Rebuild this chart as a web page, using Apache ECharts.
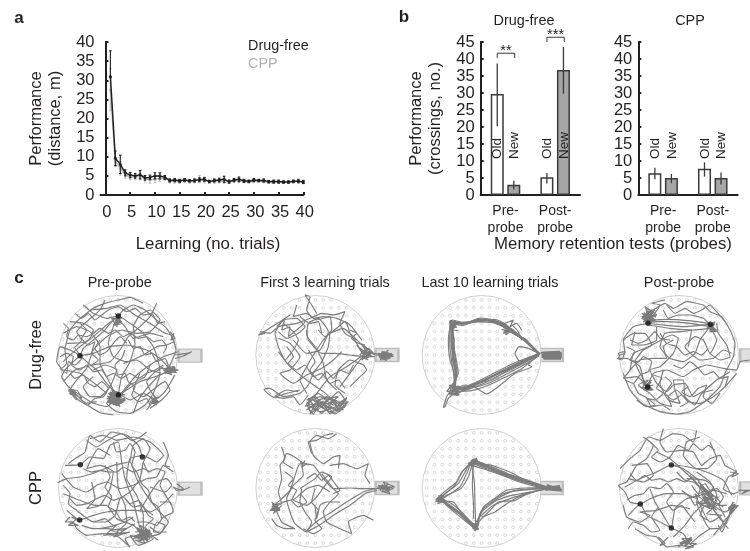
<!DOCTYPE html>
<html><head><meta charset="utf-8">
<style>html,body{margin:0;padding:0;background:#fff}#c{width:750px;height:551px;filter:blur(0.35px)}</style>
<script src="https://cdn.jsdelivr.net/npm/echarts@6/dist/echarts.min.js"></script>
</head><body><div id="c"></div>
<script>
// ---------- panel a ----------
const trials=[1,2,3,4,5,6,7,8,9,10,11,12,13,14,15,16,17,18,19,20,21,22,23,24,25,26,27,28,29,30,31,32,33,34,35,36,37,38,39,40];
const drugFree=[31,9.6,8,5.8,5.2,5,5.3,4.5,4.6,5,5,4.6,3.8,3.9,3.7,3.9,3.7,3.8,4,4.1,3.5,3.8,3.9,4.1,3.5,3.9,4.1,3.7,3.6,3.9,3.8,3.8,3.5,3.5,3.5,3.4,3.4,3.6,3.6,3.4];
const drugFreeErrUp=[6.7,1.9,2.4,.8,.7,.6,1.1,.6,.6,.8,.8,.5,.4,.4,.4,.4,.3,.4,.5,.5,.3,.4,.5,.8,.4,.4,.6,.4,.3,.4,.3,.4,.3,.4,.4,.3,.3,.3,.4,.4];
const drugFreeErrDown=[.3,1.9,2.4,.8,.7,.6,1.1,.6,.6,.8,.8,.5,.4,.4,.4,.4,.3,.4,.5,.5,.3,.4,.5,.8,.4,.4,.6,.4,.3,.4,.3,.4,.3,.4,.4,.3,.3,.3,.4,.4];
const cpp=[27.5,8.7,7,5.2,4.8,4.7,4.9,4.2,4,4.1,4.3,4.4,3.7,3.6,3.5,3.8,3.5,3.7,4.2,3.8,3.6,3.5,3.7,3.6,3.4,3.7,3.7,3.6,3.4,3.6,3.6,3.5,3.3,3.4,3.3,3.4,3.3,3.4,3.7,3.3];
const cppErr=[5.5,1.2,1.8,.8,.8,.7,.9,.8,.9,.9,.8,.6,.5,.5,.4,.4,.4,.5,.9,.6,.4,.4,.5,.5,.4,.4,.5,.4,.3,.4,.3,.3,.3,.3,.3,.3,.3,.3,.5,.3];
const learningTicks=[0,5,10,15,20,25,30,35,40];

// ---------- panel b ----------
const barPositions={old:[1,4],fresh:[2,5]};
const dfOld=[29.7,5.2], dfNew=[3,36.8], cppOld=[6.4,7.7], cppNew=[5,5];
const dfOldErr=[[20.2,38.7],[3.4,6.5]], dfNewErr=[[1.6,4.2],[29.8,43.5]];
const cppOldErr=[[4.6,8],[5.4,9.6]], cppNewErr=[[3.5,6.2],[3.1,6.6]];
const probeTicks=[1.5,4.5], probeLabels=['Pre-\nprobe','Post-\nprobe'];
const brackets=[[1,2.05,41.7,40.3,'**'],[4,5.05,46.4,45,'***']];

// ---------- panel c: tracks in arena coordinates ----------
const holeHalfWidths=[2,4,5,6,6,7,7,7,7,7,6,6,5,4,2];
const preDrugTracks=[
[205,78,185,95,160,125,130,150,100,175,90,197,70,215,45,240,35,260,55,290,90,315,130,340,170,350,205,320,230,290,260,255,300,225,340,200,370,190,385,185],
[205,78,220,60,250,45,285,60,320,90,350,115,370,150,378,180,360,225,350,245,310,262,270,275,230,300,205,314,170,280,140,240,110,215,90,197,60,180,30,170,20,215,35,235,50,220,45,180,60,120,85,90,130,55,165,40,205,30,240,22,280,40],
[205,78,190,110,175,160,190,200,230,215,280,195,320,170,350,165,372,155],
[205,314,215,260,240,215,255,160,250,110,270,75,300,60,330,90,300,125,260,130,215,120,170,140,130,180,110,235,80,270,60,300,85,330,120,350,150,368,190,375],
[100,45,130,70,170,85,205,78,240,100,280,130,310,170,325,215,330,250,310,310,285,345,240,370,200,365,170,340,190,318],
[40,130,80,110,120,125,150,170,150,220,175,270,195,310],
[90,197,130,190,180,170,230,165,290,180,330,205,360,238],
[60,95,100,100,130,120,120,145,90,170,60,195,40,215],
[220,220,260,210,300,240,330,250,295,290,265,330,250,370],
[130,240,165,225,200,240,180,290,150,320,120,320,100,290,130,260],
[165,30,150,60,110,95,80,125,95,150,70,175],
[270,250,250,300,280,320,320,290,345,275,360,300,335,330,300,355],
[320,40,300,80,270,110,235,140,210,180,180,215,130,225,75,240,40,275],
[120,60,170,55,210,45,255,75,300,100,345,130,365,135,375,165],
[50,160,110,155,170,105,200,85,225,110,250,145,300,130,340,140],
[340,230,310,250,290,275,300,300,320,325,345,305,375,255],
[80,330,60,305,80,300,95,325,75,315,65,300,110,340,140,335],
[300,225,285,260,240,285,215,315,240,330,280,310,310,330,290,360],
[40,240,90,250,140,285,170,310],
[40,100,55,115,50,140,70,150,85,135,110,140,130,130,150,115,175,130,195,120,220,140,240,130,265,145,290,140,310,155,335,150,350,170,340,190],
[30,200,50,190,70,200,65,225,90,240,110,225,130,245,155,240,170,260,190,250,215,265,240,250,265,265,290,250,315,240,340,225],
[75,70,95,85,115,70,135,90,155,75,175,60,205,50,230,65,255,55,280,75,305,70,325,100,345,95],
[60,250,75,265,100,255,115,280,135,290,155,275,175,295,160,320,135,325,115,345],
[235,150,250,175,270,170,285,195,305,190,320,215,345,205,355,225],
[225,180,215,205,195,225,205,255,225,250,235,275,255,290,245,315,265,335,290,325,300,345],
[150,150,135,175,150,195,170,185,190,160,210,140,230,160],
[75,175,95,205,75,225,55,215,50,250,30,235],
[90,100,110,120,95,145,115,165,135,155,125,190,145,210,125,225],
[175,310,215,340,180,340,220,305,185,325,215,320,175,335,205,305,190,345,225,330,170,325,205,345,195,305,180,315,225,315,185,300,210,350,172,318,220,338,200,325,178,345,215,310],
[330,235,385,240,345,250,375,230,350,232,380,248,340,240,365,255,352,225,370,245],
[300,320,325,335,305,340,325,320,310,330,300,335,320,345,312,318],
[195,70,215,100,190,105,212,72,200,110,185,85,215,85,195,95],
[360,125,375,145,362,150,372,130],
[375,195,410,190,425,185,400,198,375,205]];
const firstDrugTracks=[
[400,195,370,190,340,190,320,160,300,130,290,100,260,85,220,80,190,85,170,60,180,20,165,15,185,45,200,70],
[340,195,290,230,240,260,200,310,170,350],
[100,100,130,125,145,150,130,180,105,210,85,170,75,130,100,90,140,85,165,110,145,130,110,145,85,125],
[30,125,60,130,85,110,140,100,180,85,215,70,250,75,285,65,270,100,285,130,320,150],
[85,185,120,230,170,270,220,305,260,340],
[240,125,235,170,215,215,190,250,175,285,150,310,100,320,60,295,42,298,70,322,110,310,150,300],
[170,120,175,150,215,190,255,190,300,195,340,200,375,200],
[240,130,280,115,310,140,340,170,350,190,330,210,300,250,270,290],
[130,150,170,190,210,180,235,125,205,85,175,100,170,135,195,170,220,220,230,270,260,300],
[85,145,120,160,150,200,120,240,90,250,130,280,170,255,215,235,250,210,275,185],
[140,45,130,80,170,70,200,90,240,80,245,120,220,150,190,195,170,230,150,270,170,310],
[45,130,25,135,50,120,90,95,120,75],
[300,290,330,260,350,240,340,225,300,210,265,240,255,285,285,310],
[80,110,105,85,95,120,120,110,115,140,140,120,165,95,150,80,180,100,205,95,215,130],
[110,170,130,200,115,220,140,240,165,225,190,260,215,250,240,280,265,270,285,295],
[175,180,195,215,180,240,205,270,230,245,250,265,270,240,295,250,310,225],
[205,120,225,140,260,115,285,95,305,110,335,150],
[170,340,210,320,250,345,290,325,260,360,220,335,180,365,175,325,215,370,255,330,285,350,240,365,200,345,170,360,230,320,270,365,190,330,250,370,295,335,210,365,175,345,235,340,265,320,205,330,180,372,245,325,280,360,225,350,195,320,170,330],
[165,350,190,320,215,350,240,322,265,352,290,322,270,340,240,372,215,335,190,372,170,345],
[175,330,205,310,235,330,265,305,290,340,255,372,225,345,195,365],
[175,315,150,345,130,320,100,325,75,320,110,300,145,305],
[320,165,345,200,330,175,365,200,340,165,360,185,335,210,355,175,375,195,345,180,330,195,355,210],
[378,195,430,195,400,185,420,205,390,210,415,180,395,200,425,190,405,205,385,190,420,198,395,185,410,212,388,200,430,200,410,190],
[300,120,320,130,305,145,325,160,345,165]];
const lastDrugTracks=[
[372,192,335,155,295,125,270,105,235,92,190,90,150,100,110,98,110,150,115,200,122,250,118,300,160,292,210,270,260,245,310,220,372,192],
[374,190,338,160,300,130,275,112,232,96,190,86,148,102,108,92,104,150,108,200,116,250,122,308,165,296,215,276,265,250,315,226,370,195],
[370,188,330,150,290,128,268,100,240,88,195,94,152,96,114,104,116,150,120,200,126,250,114,296,155,288,205,266,255,240,305,216,376,190],
[374,194,342,162,296,122,280,118,238,95,185,92,145,106,106,100,112,150,122,200,130,250,110,292,150,298,220,280,275,252,325,226,372,198],
[370,190,332,148,302,135,262,108,228,88,195,84,155,100,112,90,100,150,104,205,120,260,125,312,175,282,230,270,280,240,330,215,370,192],
[372,192,336,158,290,118,272,112,234,98,188,96,146,100,104,96,118,150,112,205,124,255,116,304,170,302,220,286,270,262,320,236,372,194],
[372,196,340,210,312,212,300,190,312,170,340,175,372,190],
[376,190,340,225,350,230,300,250,250,290,215,312,185,295,150,285,120,298],
[108,300,95,320,85,352,90,350,100,325,120,310],
[102,285,130,310,100,312,135,290,105,295,125,315,115,280,95,305,130,300],
[260,118,300,130,280,112,265,130,295,118,272,135,290,105,310,125,320,150],
[104,92,125,112,105,108,122,92,112,118,130,122],
[270,100,295,90,285,110,305,100,320,120]];
const postDrugTracks=[
[115,100,160,105,220,110,300,103],[115,95,170,95,240,100,300,110],[115,105,180,115,250,120,300,115],[118,90,175,88,235,92,296,100],
[115,100,70,110,40,150,45,190,30,195,25,205,50,205,90,230,100,270,110,290,130,250,170,240,220,260,250,240,290,225,340,235,380,240,390,215,420,210],
[130,60,165,40,190,55,230,35,280,45,300,65,335,80,360,120,375,160,370,200,345,250,330,290,290,330,240,365,200,372,150,365,95,340,60,300,40,250],
[300,110,270,150,255,190,220,215,180,205,150,170,165,130,215,125,245,120,235,170],
[110,285,90,250,75,215,100,180,135,160,185,135,205,145,190,190,150,230,120,240,140,280,170,305,190,285,225,280,250,320,285,300,320,270,360,245],
[40,150,70,130,105,130,125,165,70,190,60,240,40,265,80,260,110,285],
[300,110,320,150,300,190,280,150,255,140,225,170,270,210,310,205,340,180,365,190],
[160,240,150,280,175,330,210,340,195,300,190,270,220,270,225,320,255,345,275,310,310,300],
[140,110,140,150,100,165,65,165,75,125],
[160,60,175,85,205,75,240,75,280,85,300,105],
[300,190,330,210,360,200,350,165,325,130,320,100],
[50,170,75,185,60,210,85,215,100,200,125,215,115,245,90,255,70,280,45,270],
[130,255,155,265,140,295,160,310,135,330,110,325,125,350,155,345,180,360],
[190,225,215,235,240,215,265,235,285,255,310,245,330,265,355,260,345,290],
[235,290,215,305,240,320,265,295,290,285,280,320,305,340,330,310],
[170,45,195,70,225,55,250,70,275,60,300,45,320,65,345,95],
[150,130,170,160,200,170,225,195,250,185,275,195,295,175],
[60,150,85,160,110,150,135,125,150,145,180,150],
[210,350,235,335,215,315,190,330,165,310,185,280,165,260],
[95,70,135,95,100,95,135,60,110,60,125,100,95,85,140,75,105,50,120,90,100,75,130,85,110,100,150,45,125,40,165,30],
[295,100,320,125,300,125,315,95,290,115,310,105,305,125],
[95,275,130,300,100,300,125,270,105,290,130,285,95,295,115,270,85,285,120,310],
[120,310,150,340,185,350,175,320,200,300,235,335,270,340,310,320,345,290,380,250],
[30,200,25,190,45,185,35,210,20,205],
[60,240,90,210,130,205,170,205,160,170,190,150],
[80,330,110,350,135,345,105,320,85,310,70,280]];
const preCppTracks=[
[120,50,160,40,200,55,250,45,300,60,340,100,320,120,280,100,240,110,230,170,260,220,280,280,280,330],
[22,182,50,170,90,165,140,150,190,130,240,120,260,170,290,220,320,260,355,300,330,335,290,345],
[45,130,91,128,120,105,160,110,180,70,205,60,215,120,225,170,250,240,270,320],
[277,105,265,70,230,40,185,30,150,60,120,40,105,90,75,110,55,125],
[35,155,70,195,110,210,140,190,170,180,210,200,250,190,290,170,320,165,340,130,370,150],
[40,215,90,235,135,250,170,250,200,290,250,310,280,340],
[50,265,89,294,130,280,170,270,215,265,255,265,300,270,340,245,370,215],
[60,285,45,300,70,300,80,320,110,340,160,335,205,345,240,375,225,350,260,340],
[95,310,130,320,170,320,215,325,255,305],
[380,185,400,200,380,205,370,195,395,205,420,195],
[300,195,345,210,365,190,350,170,330,175,310,200,285,240,270,265],
[125,180,135,230,110,260,150,250,180,200,190,150,150,130,110,140,130,100,145,80,180,100],
[240,120,250,70,280,50,300,80,280,120,270,170,240,210,210,230,195,280,165,300,130,300],
[200,120,205,200,225,250,230,300,200,330],
[330,240,360,240,370,270,340,285,320,310,290,300,260,300],
[190,60,200,90,225,85,240,65,255,90,245,130,260,150,275,185,295,205,305,240,325,255,335,290],
[110,55,140,75,165,60,190,45,215,35,245,55,270,45,290,30],
[100,140,125,150,150,145,175,150,200,150,220,135,250,150,280,140,300,150],
[60,230,80,250,110,245,140,230,165,220,190,235,220,225,240,245,265,235,285,260,310,280],
[165,130,180,165,165,195,185,225,175,255,195,265,215,295,240,285,255,300],
[40,190,60,215,55,245,80,265,105,285,130,300,165,290,190,310,225,300,250,285],
[280,120,295,150,320,140,345,150,330,190,350,225,365,250],
[225,230,250,255,275,250,295,280,310,290,285,315,305,340,325,355],
[255,330,300,325,265,360,295,345,255,345,290,320,270,355,305,335,265,320,285,365,255,355,300,350,275,325],
[260,315,295,360,270,310,300,330,250,350,285,340,310,350,265,370,240,340,280,355],
[60,300,85,310,55,310,80,290,65,285,90,300],
[150,320,200,310,170,335,215,335,180,325,230,320,190,345,240,330,160,340],
[300,315,330,335,345,310,320,300,310,330,350,330],
[340,60,355,100,345,130,360,135]];
const firstCppTracks=[
[420,195,380,200,340,200,300,198,250,200,220,170,190,130,150,125,135,160,120,205,90,235,65,255,100,240,135,230,170,200,205,190,240,210],
[260,35,235,50,200,40,180,60,190,100,220,125,250,105,270,100,265,140],
[95,75,105,110,90,130,95,170,85,210,95,245,70,250],
[155,125,160,160,130,190,110,230,120,270,135,305,170,330,185,300,165,270,150,240,155,200],
[170,330,215,305,250,280,300,250,345,215,380,205],
[170,325,205,295,245,270,290,240,340,210,375,200],
[240,130,280,125,320,140,355,125,345,160,360,185],
[215,155,250,200,265,215,240,240,220,270,230,300,270,320,305,335,295,300,340,280,370,295],
[75,255,95,300,135,320,105,320,80,310,65,290],
[65,240,90,265,60,265,85,245,70,275,95,250],
[150,120,170,125,155,135,165,115],
[130,235,170,250,200,225,225,190,245,165,215,150,195,170,150,200],
[105,150,130,170,115,190,140,205,125,235,145,255,170,240,150,215],
[170,170,195,155,215,175,235,160,255,185,270,205,250,215],
[195,200,185,240,205,265,195,295,215,320,190,335,160,320],
[380,195,435,195,400,180,420,215,390,205,415,185,395,210,430,200,385,190,410,205],
[155,120,125,100,110,95,100,120,130,140],
[195,250,200,290,210,250,230,240,270,240],
[185,95,175,60,200,55,225,40,250,35]];
const lastCppTracks=[
[395,198,340,180,290,165,230,140,170,118,150,150,130,185,75,230,105,250,135,275,180,318,200,265,255,225,300,205,395,198],
[395,198,345,185,295,170,235,148,168,125,145,145,125,180,72,225,110,245,140,270,182,312,205,255,265,215,315,205,392,200],
[390,196,335,178,285,160,225,136,175,112,155,155,135,195,80,235,100,255,130,280,185,322,195,275,245,235,290,220,390,202],
[398,200,350,190,300,175,240,152,165,130,140,150,120,190,70,235,115,240,145,280,178,306,212,250,275,205,330,198,396,196],
[392,194,330,172,280,155,220,130,178,116,160,165,138,200,82,228,95,245,125,265,188,316,190,290,235,250,285,230,345,212,392,200],
[168,120,178,180,180,250,182,310],[175,125,172,190,176,260,175,290],
[180,125,230,130,285,150,330,175],
[70,220,85,240,62,238,80,218,68,245,92,235,72,228],
[178,308,190,322,172,318,192,300,180,328],
[162,125,185,108,172,132,190,120],
[180,310,230,260,250,240,300,235,345,210],[200,285,240,270,275,245,310,225,370,205]];
const postCppTracks=[
[184,129,220,140,260,170,290,210,310,250,345,270,380,250],
[140,90,180,110,225,150,265,190,295,240,330,290,355,320],
[100,45,130,70,110,110,80,130,50,180,25,190,45,210,60,240,91,246,120,230,170,215,220,215,260,230],
[160,20,150,60,170,90,215,85,250,90,275,130,300,110,330,100,345,130,380,150,355,165,340,200,370,215,385,210],
[260,25,250,60,220,40,190,35,150,55,115,45,90,85,60,110,30,140],
[45,195,90,170,140,150,184,129,235,135,290,150,340,175,365,220],
[55,280,91,246,110,280,150,300,184,318,220,335,240,365,270,340,300,320],
[75,320,110,340,140,345,170,375,210,370,250,375],
[120,200,135,240,160,280,184,318,195,260,230,230,270,220,310,205,350,215],
[240,160,270,200,260,240,280,290,300,320,330,320,360,280],
[260,150,300,180,320,220,310,260,340,300,310,340],
[230,170,285,175,310,195,280,245,250,275,225,310,190,345],
[300,60,320,110,290,140,260,140,220,100,230,60,270,45],
[65,130,110,125,130,160,100,180,55,170],
[40,250,50,285,90,300,120,280,90,270,140,265,185,250,240,260],
[120,60,145,85,125,105,150,120,180,105,205,70,235,85,250,65,275,85,295,70,315,85],
[60,155,80,175,105,160,125,175,150,170,175,180,200,170,225,180,250,165,270,175],
[50,235,75,220,100,215,120,195,150,200,170,185,190,210,170,240,190,265,215,250,235,275,255,300],
[200,150,225,175,250,180,270,195,285,185,300,205,320,200,340,225,325,250,350,250],
[145,255,125,285,150,325,125,330,100,310,70,300,55,320],
[245,190,265,215,290,205,305,230,325,225,305,260,285,250,270,280,295,295],
[215,205,240,225,255,250,280,235,300,255,320,245,345,285],
[265,180,310,225,275,215,300,260,260,240,315,250,285,200,330,240,290,275,335,280,300,300,255,215,320,265,285,225,340,255],
[205,375,240,350,215,350,250,375,225,380,260,365,210,365,245,345],
[340,300,385,250,355,265,370,240,350,300,335,330,325,310],
[360,150,385,155,365,165,380,145],
[385,205,420,205,395,215,410,205],
[145,345,165,365,150,370,175,345]];
const preDrugDense=[[178,320,215,335,185,340,218,310,190,328,212,322,180,308,200,345,225,328,172,335],[345,238,380,240,350,248,375,232,355,240],[305,325,322,335,308,338,320,322],[198,85,212,95,195,100,208,78],[55,300,75,308,60,312,72,298]];
const firstDrugDense=[[340,185,360,195,345,205,365,185,350,190],[385,195,425,195,395,188,420,202,390,202,415,188]];
const lastDrugDense=[[372,192,335,155,295,125,270,105,235,92,190,90,150,100,110,98,110,150,115,200,122,250,118,300,160,292,210,270,260,245,310,220,372,192],[105,285,130,315,105,310,130,290,115,300],[265,110,300,130,280,115,270,130],[104,92,120,108,108,118,124,96],[380,195,440,195,385,190,440,200,380,200,440,190,385,205,438,205,380,188,436,186]];
const postDrugDense=[[100,70,135,92,105,92,130,65,112,68,125,95,98,80,138,78],[298,105,318,122,302,120,312,100],[100,280,125,298,105,296,122,275,108,290]];
const preCppDense=[[262,320,292,355,270,325,298,338,258,345,285,330],[265,345,300,325]];
const firstCppDense=[[385,198,420,200,395,190,415,208],[68,245,88,262,66,262,84,248]];
const lastCppDense=[[395,198,340,180,290,165,230,140,170,118],[135,275,180,318],[75,230,135,275],[72,228,90,240,65,232,85,222],[385,195,435,198,390,203,435,193,385,200,440,205,395,190],[168,118,185,112,172,130,160,122],[178,312,188,320,176,322]];
const postCppDense=[[270,190,310,235,280,225,300,255],[210,365,245,350,225,372],[355,260,375,248,360,275]];
const dotPositions=[
[[205,78],[90,197],[205,314]],[],[],[[114,100],[301,103],[113,291]],
[[91,128],[277,105],[89,294]],[],[],[[184,129],[91,246],[184,318]]];
const allTracks=[preDrugTracks,firstDrugTracks,lastDrugTracks,postDrugTracks,preCppTracks,firstCppTracks,lastCppTracks,postCppTracks];
const allDense=[preDrugDense,firstDrugDense,lastDrugDense,postDrugDense,preCppDense,firstCppDense,lastCppDense,postCppDense];
const arenaCentres=[[204,195],[196,195],[200,195],[207,195],[204,198],[196,198],[200,198],[207,198]];
const platformCentres=[[420,197],[411,195],[409,195],[425,196],[420,200],[411,198],[409,198],[425,199]];

const ink='#231f20', track='#7c7c7c', fontFamily='"Liberation Sans",Arial,sans-serif';
const grids=[], xAxes=[], yAxes=[], series=[];
const baseAxis={axisLine:{lineStyle:{color:ink,width:2}},axisTick:{inside:true,length:3,lineStyle:{color:ink,width:2}},axisLabel:{color:ink,fontSize:16.5,fontFamily},splitLine:{show:false}};

// a
grids.push({left:100.5,top:42,width:202.8,height:153});
xAxes.push({...baseAxis,type:'value',min:-1,max:40,axisTick:{...baseAxis.axisTick,customValues:learningTicks},
  axisLabel:{...baseAxis.axisLabel,customValues:learningTicks,margin:9,padding:[0,0,0,3],formatter:v=>String(v)}});
yAxes.push({...baseAxis,type:'value',min:0,max:40,interval:5,name:'Performance\n(distance, m)',nameLocation:'middle',nameRotate:90,nameGap:36,
  nameTextStyle:{color:ink,fontSize:16.5,fontFamily,lineHeight:19},axisLabel:{...baseAxis.axisLabel,margin:6}});
function errorSeries(name,vals,down,up,color,g){
  series.push({name,type:'custom',xAxisIndex:g,yAxisIndex:g,z:color===ink?4:2,silent:true,
    data:vals.map((v,i)=>[trials[i],v-down[i],v+up[i]]),
    renderItem(p,api){const a=api.coord([api.value(0),api.value(1)]),b=api.coord([api.value(0),api.value(2)]);
      const st={stroke:color,lineWidth:1.1};
      return {type:'group',children:[
        {type:'line',shape:{x1:a[0],y1:a[1],x2:b[0],y2:b[1]},style:st},
        {type:'line',shape:{x1:a[0]-1.3,y1:a[1],x2:a[0]+1.3,y2:a[1]},style:st},
        {type:'line',shape:{x1:b[0]-1.3,y1:b[1],x2:b[0]+1.3,y2:b[1]},style:st}]};}});
}
errorSeries('CPP err',cpp,cppErr,cppErr,'#bdbdbd',0);
series.push({name:'CPP',type:'line',xAxisIndex:0,yAxisIndex:0,z:2,data:trials.map((t,i)=>[t,cpp[i]]),symbol:'circle',symbolSize:3,showSymbol:true,itemStyle:{color:'#bdbdbd'},lineStyle:{color:'#bdbdbd',width:1.5}});
errorSeries('Drug-free err',drugFree,drugFreeErrDown,drugFreeErrUp,ink,0);
series.push({name:'Drug-free',type:'line',xAxisIndex:0,yAxisIndex:0,z:4,data:trials.map((t,i)=>[t,drugFree[i]]),symbol:'circle',symbolSize:3,showSymbol:true,itemStyle:{color:ink},lineStyle:{color:ink,width:1.5}});

// b
function barPanel(left,oldV,newV,oldE,newE,title,withName){
  const g=grids.length;
  grids.push({left,top:42,width:99.3,height:153});
  xAxes.push({...baseAxis,type:'value',min:0,max:6,axisTick:{show:false},
    axisLabel:{...baseAxis.axisLabel,fontSize:14,lineHeight:17,margin:8,customValues:probeTicks,formatter:v=>probeLabels[probeTicks.indexOf(v)]}});
  yAxes.push({...baseAxis,type:'value',min:0,max:45,interval:5,axisLabel:{...baseAxis.axisLabel,margin:6},
    ...(withName?{name:'Performance\n(crossings, no.)',nameLocation:'middle',nameRotate:90,nameGap:36,nameTextStyle:{color:ink,fontSize:16.5,fontFamily,lineHeight:19}}:{})});
  const bar=(name,xs,vs,color)=>({name,type:'bar',xAxisIndex:g,yAxisIndex:g,barWidth:13,barGap:'-100%',z:2,
    data:xs.map((x,i)=>[x,vs[i]]),itemStyle:{color,borderColor:'#3a3a3a',borderWidth:1.5}});
  series.push(bar(title+' Old',barPositions.old,oldV,'#ffffff'),bar(title+' New',barPositions.fresh,newV,'#a6a6a6'));
  const errs=[...barPositions.old.map((x,i)=>[x,oldE[i][0],oldE[i][1]]),...barPositions.fresh.map((x,i)=>[x,newE[i][0],newE[i][1]])];
  series.push({name:title+' error',type:'custom',xAxisIndex:g,yAxisIndex:g,z:3,silent:true,clip:false,data:errs,
    renderItem(p,api){const a=api.coord([api.value(0),api.value(1)]),b=api.coord([api.value(0),api.value(2)]);
      return {type:'line',shape:{x1:a[0],y1:a[1],x2:b[0],y2:b[1]},style:{stroke:'#3a3a3a',lineWidth:1.3}};}});
  const labels=[[1,'Old'],[2,'New'],[4,'Old'],[5,'New']];
  series.push({name:title+' labels',type:'custom',xAxisIndex:g,yAxisIndex:g,z:5,silent:true,clip:false,data:labels.map(l=>[l[0],10.6]),
    encode:{x:0,y:1},
    renderItem(p,api){const a=api.coord([api.value(0),api.value(1)]);const i=p.dataIndex;
      return {type:'text',x:a[0]+0.5,y:a[1],rotation:Math.PI/2,style:{text:labels[i][1],fill:ink,fontSize:13.5,fontFamily,align:'left',verticalAlign:'middle'}};}});
  return g;
}
const gDf=barPanel(480.7,dfOld,dfNew,dfOldErr,dfNewErr,'Drug-free panel',true);
barPanel(638.3,cppOld,cppNew,cppOldErr,cppNewErr,'CPP panel',false);
series.push({name:'significance',type:'custom',xAxisIndex:gDf,yAxisIndex:gDf,z:6,silent:true,clip:false,data:brackets.map(b=>b.slice(0,4)),
  renderItem(p,api){const x1=api.coord([api.value(0),api.value(2)]),x2=api.coord([api.value(1),api.value(2)]),e=api.coord([api.value(1),api.value(3)]);
    const st={stroke:'#3a3a3a',lineWidth:1,fill:'none'};
    return {type:'group',children:[
      {type:'polyline',shape:{points:[[x1[0],e[1]],x1,x2,e]},style:st},
      {type:'text',x:(x1[0]+x2[0])/2,y:x1[1]+5,style:{text:brackets[p.dataIndex][4],fill:ink,fontSize:14.5,fontFamily,align:'center',verticalAlign:'bottom'}}]};}});

// c
const panelLeft=[50,250,415,610], panelWidth=[155,155,155,140], rowTop=[290,422], rowHeight=[130,129];
allTracks.forEach((tracks,i)=>{
  const col=i%4,row=i<4?0:1,g=grids.length,c=arenaCentres[i];
  grids.push({left:panelLeft[col],top:rowTop[row],width:panelWidth[col],height:rowHeight[row]});
  xAxes.push({type:'value',show:false,min:0,max:panelWidth[col]*3});
  yAxes.push({type:'value',show:false,min:0,max:rowHeight[row]*3,inverse:true});
  const base={xAxisIndex:g,yAxisIndex:g,silent:true,clip:false,animation:false};
  series.push({...base,name:'platform '+i,type:'scatter',symbol:'rect',symbolSize:[23,13],data:[platformCentres[i]],itemStyle:{color:'#d8d8d8',borderColor:'#b0b0b0',borderWidth:1.8},z:1});
  series.push({...base,name:'arena '+i,type:'scatter',symbol:'circle',symbolSize:119,data:[c],itemStyle:{color:'#fff',borderColor:'#c4c4c4',borderWidth:1},z:1.5});
  const holes=[];holeHalfWidths.forEach((h,k)=>{for(let j=-h;j<=h;j++)holes.push([c[0]+j*23.6,c[1]+(k-7)*23.6]);});
  series.push({...base,name:'holes '+i,type:'scatter',symbol:'circle',symbolSize:2.8,data:holes,itemStyle:{color:'#fff',borderColor:'#c4c4c4',borderWidth:0.8},z:2});
  const addLine=(t,k,w,tag)=>{const pts=[];for(let j=0;j<t.length;j+=2)pts.push([t[j],t[j+1]]);
    series.push({...base,name:tag+i+'-'+k,type:'line',data:pts,showSymbol:false,symbol:'none',smooth:0.15,lineStyle:{color:track,width:w},z:3});};
  tracks.forEach((t,k)=>addLine(t,k,1.15,'track '));
  allDense[i].forEach((t,k)=>addLine(t,k,2.6,'dense '));
  if(dotPositions[i].length)series.push({...base,name:'probe '+i,type:'scatter',symbol:'circle',symbolSize:5.5,data:dotPositions[i],itemStyle:{color:'#111'},z:4});
});

const txt=(x,y,text,o={})=>({type:'text',x,y,rotation:o.rot||0,silent:true,style:{text,fill:ink,fontFamily,fontSize:o.size||14.4,fontWeight:o.bold?'bold':'normal',align:'center',verticalAlign:'middle'}});
const chart=echarts.init(document.getElementById('c'),null,{renderer:'canvas'});
chart.setOption({animation:false,backgroundColor:'#fff',grid:grids,xAxis:xAxes.map((a,i)=>({...a,gridIndex:i})),yAxis:yAxes.map((a,i)=>({...a,gridIndex:i})),series,
  legend:{left:238,top:34.5,orient:'vertical',itemWidth:0,itemHeight:0,itemGap:3.5,selectedMode:false,
    data:[{name:'Drug-free',icon:'none',textStyle:{color:ink,fontSize:14.4,fontFamily}},{name:'CPP',icon:'none',textStyle:{color:'#b0b0b0',fontSize:14.4,fontFamily}}]},
  graphic:[
    txt(19,18,'a',{bold:true,size:17}),txt(404,17,'b',{bold:true,size:17}),txt(19,278,'c',{bold:true,size:17}),
    txt(208,244,'Learning (no. trials)',{size:16.8}),txt(613,244,'Memory retention tests (probes)',{size:16.8}),
    txt(524,21.5,'Drug-free'),txt(690,21.5,'CPP'),
    txt(119.7,282.7,'Pre-probe'),txt(325,282.7,'First 3 learning trials'),txt(490,282.7,'Last 10 learning trials'),txt(679,282.7,'Post-probe'),
    txt(36,355,'Drug-free',{size:16.5,rot:Math.PI/2}),txt(36,488,'CPP',{size:16.5,rot:Math.PI/2})
  ]});
</script></body></html>
